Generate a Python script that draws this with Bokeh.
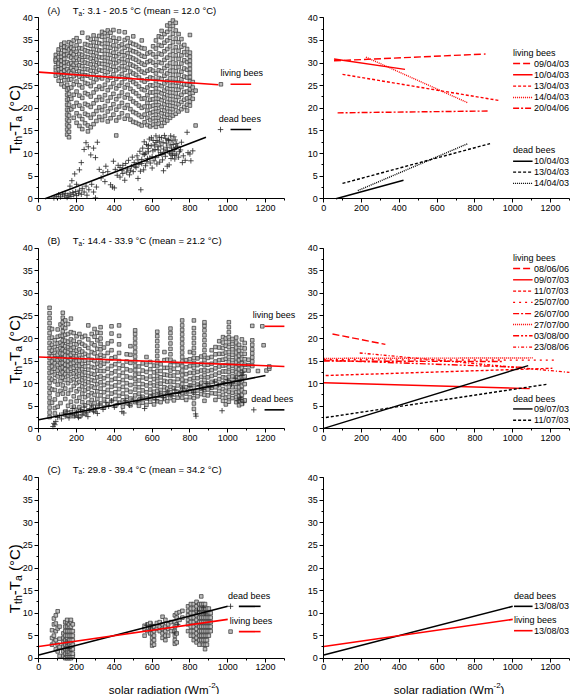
import math
from bokeh.plotting import figure
from bokeh.models import Range1d, FixedTicker, Label, LinearAxis
from bokeh.embed import file_html
from bokeh.resources import INLINE

# ---------------- data ----------------
x_ticks = [0, 200, 400, 600, 800, 1000, 1200]
y_ticks = [0, 5, 10, 15, 20, 25, 30, 35, 40]

titles = ["(A)", "(B)", "(C)"]
ta_ranges = ["3.1 - 20.5 °C (mean = 12.0 °C)",
             "14.4 - 33.9 °C (mean = 21.2 °C)",
             "29.8 - 39.4 °C (mean = 34.2 °C)"]

# (A) living bees: radiation columns and the thorax excess temperatures read in each
a_live_x = [90, 105, 120, 135, 150, 160, 172, 185, 200, 215, 230, 245, 260, 275, 290, 305, 320, 335,
            350, 365, 380, 395, 410, 425, 440, 455, 470, 485, 500, 515, 530, 545, 560, 575, 590, 605,
            620, 635, 650, 665, 680, 695, 710, 725, 740, 755, 770, 785, 800, 815, 830]
a_live_y = [
    [27.2, 28.4, 29.1, 30.3, 31.0, 31.8, 30.7],
    [26.1, 27.5, 28.6, 29.4, 30.2, 31.3, 32.4, 33.0, 29.9],
    [25.3, 26.8, 27.9, 28.8, 29.6, 30.5, 31.4, 32.2, 33.5, 34.1],
    [24.8, 26.2, 27.4, 28.3, 29.2, 30.1, 30.9, 31.8, 32.7, 33.6, 34.5],
    [14.2, 15.3, 16.4, 17.5, 18.6, 19.7, 20.8, 21.9, 23.0, 24.1, 25.2, 27.0, 28.6, 30.2, 31.9, 33.4],
    [13.6, 14.8, 16.0, 17.2, 18.4, 19.6, 20.8, 22.0, 23.2, 24.4, 26.3, 28.1, 29.8, 31.5, 33.0, 34.6],
    [19.8, 22.1, 24.6, 26.4, 27.7, 28.9, 30.0, 31.2, 32.3, 33.4, 34.3],
    [17.9, 20.4, 23.0, 25.3, 27.1, 28.4, 29.6, 30.7, 31.9, 33.1, 35.0],
    [16.8, 18.9, 21.2, 23.7, 25.9, 27.5, 28.8, 30.0, 31.2, 32.5, 33.9, 35.5],
    [16.1, 18.3, 20.6, 22.8, 25.1, 27.0, 28.2, 29.5, 30.8, 32.0, 33.3, 34.8],
    [15.4, 17.6, 19.9, 22.3, 24.6, 26.5, 28.0, 29.3, 30.6, 31.8, 33.2, 36.7],
    [16.7, 18.8, 21.0, 23.4, 25.6, 27.3, 28.7, 30.1, 31.4, 32.8, 34.2],
    [14.9, 16.2, 18.5, 20.7, 23.1, 25.4, 27.2, 28.6, 29.9, 31.3, 32.6, 34.0, 35.6],
    [15.8, 17.9, 20.3, 22.6, 24.9, 26.8, 28.3, 29.7, 31.0, 32.4, 33.8, 35.2],
    [16.5, 18.7, 21.1, 23.5, 25.8, 27.6, 29.0, 30.4, 31.7, 33.1, 34.6, 36.1],
    [17.2, 19.4, 21.8, 24.2, 26.4, 28.1, 29.5, 30.8, 32.2, 33.7, 35.3],
    [18.1, 20.2, 22.5, 24.8, 26.9, 28.5, 29.9, 31.3, 32.8, 34.4, 36.0],
    [17.4, 19.6, 21.9, 24.3, 26.6, 28.3, 29.8, 31.2, 32.7, 34.2, 35.8, 36.9],
    [18.3, 20.5, 22.9, 25.2, 27.3, 29.0, 30.5, 32.0, 33.6, 35.1, 36.6],
    [17.1, 19.3, 21.6, 24.0, 26.2, 28.0, 29.6, 31.1, 32.7, 34.3, 36.0, 37.2],
    [17.8, 20.0, 22.4, 24.7, 26.8, 28.6, 30.2, 31.8, 33.4, 35.0, 36.7],
    [18.6, 20.9, 23.2, 25.5, 27.5, 29.2, 30.8, 32.3, 33.9, 35.6, 37.3],
    [14.0, 17.3, 19.7, 22.0, 24.4, 26.5, 28.4, 30.0, 31.5, 33.1, 34.8],
    [18.0, 20.4, 22.7, 25.0, 27.0, 28.8, 30.4, 32.0, 33.7, 35.4, 37.0],
    [18.9, 21.2, 23.5, 25.7, 27.6, 29.3, 30.9, 32.5, 34.1],
    [17.7, 20.1, 22.4, 24.6, 26.6, 28.5, 30.1, 31.7, 33.4, 35.1, 36.8],
    [18.4, 20.7, 23.0, 25.2, 27.2, 29.0, 30.6, 32.2, 33.8, 35.5],
    [17.5, 19.8, 22.1, 24.3, 26.3, 28.1, 29.7, 31.3, 32.9, 34.5],
    [17.0, 19.2, 21.5, 23.7, 25.8, 27.7, 29.4, 31.0, 32.6, 34.2, 35.9],
    [16.8, 18.9, 21.1, 23.3, 25.4, 27.4, 29.1, 30.7, 32.4, 34.0],
    [16.5, 18.5, 20.6, 22.7, 24.8, 26.8, 28.6, 30.3, 32.0, 33.6],
    [16.2, 18.1, 20.1, 22.1, 24.2, 26.2, 28.1, 29.9, 31.6, 33.3, 35.0],
    [16.9, 18.6, 20.4, 22.2, 24.0, 25.9, 27.8, 29.6, 31.4, 33.2],
    [16.3, 17.9, 19.5, 21.2, 22.9, 24.6, 26.4, 28.3, 30.2, 32.1],
    [16.0, 17.4, 18.9, 20.4, 21.9, 23.5, 25.1, 26.8, 28.6, 30.5, 32.4],
    [16.4, 17.8, 19.2, 20.6, 22.0, 23.5, 25.0, 26.6, 28.3, 30.1, 31.9, 33.7],
    [15.9, 17.2, 18.6, 20.0, 21.4, 22.9, 24.4, 26.0, 27.7, 29.5, 31.3, 33.2, 35.0],
    [16.6, 17.9, 19.3, 20.7, 22.1, 23.6, 25.1, 26.7, 28.4, 30.2, 32.1, 34.0, 35.9],
    [16.1, 17.5, 18.9, 20.3, 21.8, 23.3, 24.9, 26.5, 28.2, 30.0, 31.9, 33.8, 35.7, 37.1],
    [16.8, 18.1, 19.5, 20.9, 22.4, 23.9, 25.5, 27.2, 28.9, 30.7, 32.6, 34.5, 36.4],
    [17.3, 18.6, 20.0, 21.4, 22.9, 24.4, 26.0, 27.7, 29.4, 31.2, 33.1, 35.0, 36.9, 38.3],
    [17.9, 19.2, 20.6, 22.0, 23.5, 25.0, 26.6, 28.3, 30.0, 31.8, 33.7, 35.6, 37.5, 38.8],
    [18.4, 19.8, 21.2, 22.7, 24.2, 25.8, 27.4, 29.1, 30.9, 32.7, 34.6, 36.5, 38.2, 39.4],
    [18.8, 20.3, 21.8, 23.3, 24.9, 26.5, 28.2, 29.9, 31.7, 33.5, 35.4, 37.2, 38.9],
    [19.3, 20.9, 22.5, 24.1, 25.7, 27.4, 29.1, 30.9, 32.7, 34.6, 36.4],
    [19.8, 21.4, 23.0, 24.7, 26.4, 28.1, 29.9, 31.7, 33.6, 35.3],
    [20.3, 21.9, 23.6, 25.3, 27.0, 28.8, 30.6, 32.4, 34.0],
    [19.5, 20.8, 22.2, 23.7, 25.2, 26.8, 28.5, 30.2, 31.8, 33.1],
    [20.6, 21.5, 22.4, 23.3, 24.2, 25.1, 26.0, 26.9, 27.8, 28.7, 29.6, 30.5, 31.4, 32.3, 36.2],
    [22.1, 23.4, 24.6, 25.8],
    [16.2, 23.9],
]

# (A) dead bees
a_dead_x = [80, 95, 105, 115, 125, 135, 140, 150, 155, 165, 170, 180, 185, 195, 200, 210, 215, 225, 230,
            240, 250, 255, 265, 280, 290, 300, 305, 165, 175, 190, 200, 215, 225, 240, 250, 262, 275, 290,
            300, 310, 320, 330, 340, 350, 355, 365, 380, 390, 395, 400, 405, 415, 420, 430, 440, 445, 455,
            460, 470, 475, 480, 490, 495, 500, 505, 515, 520, 525, 530, 535, 540, 545, 550, 555, 560, 565,
            570, 575, 580, 585, 590, 595, 600, 605, 610, 615, 620, 625, 630, 635, 640, 645, 650, 655, 660,
            665, 670, 675, 680, 685, 690, 695, 700, 705, 710, 715, 720, 725, 730, 740, 750, 760, 775, 785,
            790, 800, 805, 815, 600, 640, 680, 720, 660, 700, 580, 620,
            545, 552, 558, 566, 572, 578, 588, 596, 604, 612, 618, 626, 632, 638, 646, 652, 658, 668, 672,
            678, 688, 692, 698, 702, 708, 712, 718, 722, 728, 735, 745, 755, 765, 430, 445, 465, 485, 510,
            525, 538]
a_dead_y = [0.2, 0.5, 0.9, 0.4, 1.0, 0.6, 1.2, 0.3, 0.8, 1.1, 0.5, 1.4, 0.9, 1.6, 0.7, 1.2, 1.9, 1.0, 2.3,
            1.5, 2.8, 0.8, 2.0, 3.2, 1.5, 0.2, 2.6, 2.8, 4.0, 5.5, 3.2, 6.4, 8.0, 10.9, 12.4, 11.5, 9.7, 11.2,
            9.1, 12.5, 6.5, 4.6, 5.8, 3.8, 7.2, 6.0, 3.1, 2.6, 8.3, 2.4, 6.5, 5.2, 7.4, 4.8, 6.3, 5.6, 4.1,
            7.8, 6.6, 8.5, 5.3, 7.1, 9.2, 6.0, 8.0, 6.9, 9.5, 4.5, 7.6, 10.5, 2.0, 8.7, 11.2, 6.4, 9.8, 7.3,
            12.0, 8.9, 10.4, 13.2, 7.9, 11.7, 9.3, 12.9, 8.4, 10.9, 13.9, 7.7, 11.5, 9.6, 12.6, 10.2, 13.5, 8.6, 11.0,
            14.0, 9.4, 12.3, 10.7, 13.1, 7.5, 11.9, 9.9, 12.8, 10.5, 13.7, 8.8, 11.3, 12.2, 9.2, 10.8, 8.0, 8.5, 14.7,
            10.2, 9.9, 8.4, 10.6, 6.8, 8.1, 7.2, 9.6, 6.2, 8.9, 11.8, 12.4,
            7.8, 9.9, 12.6, 10.1, 8.2, 11.1, 9.0, 13.5, 10.6, 11.9, 9.1, 12.9, 10.8, 13.6, 11.7, 9.8, 12.4, 10.3, 13.3,
            11.4, 12.9, 10.1, 13.9, 11.2, 9.6, 12.0, 10.9, 13.0, 9.9, 11.6, 10.4, 12.5, 9.5, 6.9, 7.4, 5.9, 6.2, 7.2,
            8.6, 6.1]

# (B) living bees
b_live_x = [57, 70, 85, 100, 115, 127, 140, 155, 170, 185, 200, 215, 230, 245, 262, 280, 295, 310, 327,
            345, 365, 385, 405, 425, 445, 465, 485, 510, 530, 550, 570, 590, 610, 627, 645, 665, 680, 697,
            715, 735, 759, 780, 800, 821, 840, 860, 877, 895, 915, 935, 955, 975, 990, 1006, 1025, 1045,
            1060, 1075, 1090, 1110, 1130, 1160, 1190, 1205, 1220]
b_live_y = [
    [2.6, 3.6, 4.7, 5.8, 6.9, 8.0, 9.1, 10.2, 11.3, 12.4, 13.5, 14.6, 15.7, 16.8, 17.9, 19.0, 20.1, 21.2, 22.3, 23.4, 24.5, 25.6, 26.8],
    [5.8, 8.7, 10.9, 12.6, 13.8, 14.9, 16.1, 17.3, 18.6, 20.2, 22.1],
    [3.4, 4.6, 6.5, 8.6, 10.5, 12.0, 13.3, 14.5, 15.6, 16.8, 18.1, 19.6],
    [4.9, 7.6, 9.8, 11.6, 12.9, 14.1, 15.2, 16.4, 17.6, 18.9, 20.4, 22.0],
    [5.7, 8.4, 10.6, 12.2, 13.4, 14.5, 15.6, 16.7, 17.9, 19.1, 20.6, 23.1],
    [7.8, 9.6, 11.3, 12.5, 13.6, 14.6, 15.6, 16.6, 17.6, 18.6, 19.6, 20.6, 21.6, 22.6, 23.6, 24.6, 25.7],
    [3.8, 6.6, 8.9, 10.8, 12.1, 13.2, 14.2, 15.2, 16.2, 17.2, 18.3, 19.5, 20.8, 22.3, 24.0],
    [2.9, 5.1, 7.8, 10.1, 11.7, 12.9, 14.0, 15.0, 16.0, 17.0, 18.1, 19.3, 21.0, 23.2],
    [3.7, 6.0, 8.6, 10.7, 12.1, 13.3, 14.4, 15.4, 16.4, 17.5, 18.6, 19.8, 21.4, 24.4],
    [2.8, 4.9, 7.2, 9.5, 11.0, 12.3, 13.5, 14.6, 15.7, 16.8, 18.0, 19.5, 21.2],
    [3.1, 4.2, 6.1, 8.3, 10.1, 11.5, 12.7, 13.9, 15.0, 16.1, 17.3, 18.7, 20.5],
    [2.7, 4.8, 6.9, 8.8, 10.4, 11.7, 12.9, 14.0, 15.1, 16.3, 17.6, 19.2, 21.0],
    [3.9, 5.9, 7.8, 9.4, 10.8, 12.0, 13.2, 14.4, 15.7, 17.1, 18.8, 20.3],
    [3.3, 5.2, 7.0, 8.5, 9.9, 11.2, 12.5, 13.8, 15.1, 16.6, 18.4, 20.6],
    [4.1, 5.8, 7.4, 8.9, 10.3, 11.7, 13.1, 14.6, 16.2, 17.9, 19.8, 22.9],
    [4.6, 6.4, 7.9, 9.4, 10.8, 12.2, 13.7, 15.3, 17.0, 18.9, 21.0],
    [4.0, 5.7, 7.5, 9.1, 10.6, 12.0, 13.5, 15.0, 16.7, 18.5, 20.4, 22.1],
    [4.8, 6.6, 8.3, 9.9, 11.4, 12.9, 14.4, 16.0, 17.7, 19.6, 21.3],
    [5.6, 7.4, 8.9, 10.3, 11.6, 12.8, 14.0, 15.2, 16.4, 17.6, 18.8, 20.0, 21.2, 22.5],
    [4.7, 6.5, 8.1, 9.7, 11.2, 12.8, 14.4, 16.1, 18.0],
    [5.5, 7.1, 8.6, 10.1, 11.7, 13.3, 15.0, 16.8, 18.9],
    [6.2, 7.8, 9.3, 10.8, 12.3, 13.9, 15.6, 17.4, 19.4, 21.1, 22.7],
    [5.1, 6.6, 8.1, 9.6, 11.1, 12.7, 14.3, 15.9],
    [5.8, 7.3, 8.8, 10.3, 11.8, 13.4, 15.0, 16.8, 18.7, 20.6, 22.9],
    [4.9, 6.3, 7.8, 9.3, 10.8, 12.4, 14.0],
    [5.7, 7.1, 8.6, 10.1, 11.6, 13.2, 14.9, 16.5],
    [5.2, 6.7, 8.2, 9.7, 11.3, 12.9, 14.6, 16.4, 18.3],
    [5.9, 7.4, 8.7, 9.9, 11.0, 12.0, 13.0, 14.0, 15.0, 16.0, 17.0, 18.0, 19.0, 20.0, 21.0, 21.8],
    [5.1, 6.4, 7.8, 9.2, 10.7, 12.2, 13.8],
    [5.8, 7.1, 8.5, 9.9, 11.4, 12.9, 14.5],
    [5.3, 6.7, 8.1, 9.6, 11.1, 12.6, 14.2, 15.9],
    [6.0, 7.3, 8.7, 10.1, 11.6, 13.2, 14.8],
    [5.4, 6.8, 8.2, 9.6, 11.0, 12.5, 14.0],
    [6.1, 7.3, 8.4, 9.5, 10.6, 11.7, 12.8, 13.9, 15.0, 16.1, 17.2, 18.3, 19.4, 20.5, 21.5],
    [5.9, 7.3, 8.6, 10.0, 11.4, 12.8, 14.3],
    [6.6, 7.9, 9.2, 10.6, 12.0, 13.5, 15.2, 17.0],
    [6.1, 7.5, 8.9, 10.4, 11.9, 13.5, 15.3],
    [6.8, 8.1, 9.3, 10.5, 11.7, 12.9, 14.1, 15.3, 16.5, 17.7, 18.9, 20.1, 21.2, 22.2],
    [6.3, 7.6, 9.0, 10.4, 11.8, 13.3, 14.8],
    [6.9, 8.2, 9.6, 11.0, 12.5, 14.1],
    [6.9, 7.9, 8.9, 9.9, 10.9, 11.9, 12.9, 13.9, 14.9, 15.9, 16.9, 17.9, 18.9, 19.9, 20.9, 21.9, 22.9, 24.0],
    [6.4, 7.8, 9.2, 10.6, 12.1, 13.6, 15.2],
    [7.0, 8.3, 9.6, 11.0, 12.4, 13.9, 15.4, 17.0],
    [4.4, 5.6, 6.8, 8.0, 9.1, 10.2, 11.3, 12.4, 13.5, 14.6, 15.7, 16.8, 17.9, 19.0, 20.1, 21.2, 22.3, 24.0],
    [7.2, 8.5, 9.8, 11.2, 12.6, 14.1, 15.6],
    [7.7, 8.9, 10.2, 11.5, 12.9, 14.4, 16.0],
    [6.2, 7.5, 8.6, 9.7, 10.8, 11.9, 13.0, 14.1, 15.2, 16.3, 17.4, 18.5, 19.6, 20.7, 21.8, 22.8, 23.6],
    [7.4, 8.7, 10.0, 11.4, 12.8, 14.2, 15.7],
    [7.9, 9.1, 10.4, 11.7, 13.0, 14.4, 15.9, 17.4],
    [6.4, 7.8, 9.2, 10.6, 12.0, 13.4, 14.9, 16.5, 18.1],
    [7.1, 8.4, 9.7, 11.0, 12.4, 13.8, 15.2, 16.6, 18.0, 19.4],
    [6.2, 7.5, 8.8, 10.1, 11.4, 12.7, 14.0, 15.3, 16.6, 17.9, 19.1, 20.3],
    [5.4, 6.9, 8.4, 9.9, 11.3, 12.7, 14.1, 15.5, 16.9, 18.4, 20.0],
    [6.0, 7.1, 8.2, 9.3, 10.4, 11.5, 12.6, 13.7, 14.8, 15.9, 17.0, 18.1, 19.2, 20.3, 21.4, 22.5, 23.6],
    [6.8, 8.0, 9.2, 10.4, 11.6, 12.8, 14.0, 15.2, 16.4, 17.6, 18.8, 19.9],
    [5.9, 7.0, 8.1, 9.2, 10.3, 11.4, 12.5, 13.6, 14.7, 15.8, 16.9, 18.0, 19.1, 20.2],
    [5.2, 6.2, 7.2, 8.2, 9.2, 10.2, 11.2, 12.2, 13.2, 14.2, 15.2, 16.2, 17.3, 18.6],
    [5.5, 6.5, 7.5, 8.5, 9.5, 10.5, 11.5, 12.5, 13.5, 14.5, 15.5, 16.6, 17.9, 19.8],
    [6.3, 8.1, 9.9, 11.6, 13.0, 14.2, 15.4, 16.6, 17.8, 19.0],
    [12.9, 14.1, 15.3],
    [13.9, 14.9, 15.8, 16.7, 17.6, 18.6, 19.6, 22.8],
    [12.8],
    [18.5],
    [12.9],
    [13.3, 13.8],
]

# (B) dead bees
b_dead_x = [75, 80, 85, 90, 100, 110, 120, 130, 140, 150, 160, 170, 180, 190, 200, 210, 220, 230, 240, 250,
            260, 270, 280, 290, 300, 310, 320, 340, 355, 370, 385, 400, 420, 440, 450, 460, 480, 500, 520,
            540, 560, 580, 600, 620, 640, 660, 680, 700, 720, 740, 760, 780, 800, 820, 830, 832, 850, 870,
            890, 910, 930, 950, 970, 980, 1000, 1020, 1040, 1055, 1060, 1065, 1070, 1075, 1080, 1085]
b_dead_y = [0.5, 1.2, 0.9, 1.6, 2.5, 3.0, 2.2, 3.5, 2.8, 3.9, 2.4, 3.2, 4.5, 2.9, 3.6, 2.5, 4.2, 3.1, 4.8, 3.5,
            2.7, 4.1, 5.2, 3.8, 4.6, 3.4, 5.5, 4.3, 5.8, 5.0, 6.2, 4.8, 5.6, 3.8, 3.5, 6.3, 5.2, 6.6, 5.9,
            7.0, 4.5, 6.8, 7.5, 6.4, 7.9, 6.9, 8.2, 7.4, 8.6, 7.8, 9.0, 8.3, 9.4, 8.0, 3.3, 2.8, 9.6, 8.7,
            10.0, 9.2, 10.4, 9.7, 4.0, 10.2, 10.8, 9.9, 11.2, 6.2, 10.5, 7.0, 6.5, 11.8, 12.5, 5.8]

# (C) living bees
c_live_x = [70, 80, 90, 100, 110, 130, 140, 150, 160, 170, 180, 560, 575, 590, 600, 610, 625, 640, 655,
            670, 685, 700, 720, 730, 745, 760, 790, 805, 820, 835, 850, 860, 870, 880, 890, 900, 910]
c_live_y = [
    [3.0, 4.5, 6.2],
    [3.5, 5.0, 7.5, 8.8],
    [2.0, 4.0, 6.0, 7.7, 9.5],
    [1.5, 3.0, 6.6, 10.4],
    [0.5, 2.5, 4.3, 7.0],
    [0.5, 1.5, 2.5, 3.5, 4.5, 5.5],
    [0.0, 1.0, 2.0, 3.0, 4.0, 5.0, 6.0, 7.0, 8.0],
    [0.0, 0.5, 1.0, 1.5, 2.0, 2.5, 3.0, 3.5, 4.0, 4.5, 5.0, 6.0, 7.0, 8.0, 8.5],
    [0.0, 0.5, 1.0, 1.5, 2.0, 2.5, 3.0, 4.0, 5.0, 6.0, 7.0, 7.5],
    [0.0, 0.5, 1.0, 2.0, 2.5, 3.0, 3.5, 4.0, 5.0, 6.0, 7.0, 8.0, 8.5],
    [0.5, 1.0, 2.0, 3.0, 4.0, 5.0, 6.0, 7.5],
    [5.0, 6.5, 7.2],
    [6.0, 7.5],
    [5.5, 6.8, 7.8],
    [2.8, 3.5, 4.5, 5.5, 6.5],
    [3.0, 4.0, 5.0, 6.0, 7.0],
    [6.5, 7.8],
    [6.0, 7.0, 8.0],
    [4.5, 5.5, 6.5, 7.5, 9.2],
    [4.0, 5.0, 6.0, 7.0, 8.5],
    [5.0, 6.5, 7.5],
    [6.0, 8.0],
    [3.2, 4.0, 5.0, 6.0, 7.0, 8.0, 9.5],
    [3.5, 5.5, 7.5, 9.0, 10.0],
    [8.5, 10.2],
    [9.0, 10.5],
    [6.0, 7.5, 8.5, 9.5, 10.5, 11.5],
    [5.0, 6.0, 7.0, 8.0, 9.0, 10.0, 11.0, 12.0],
    [4.0, 5.0, 6.0, 7.0, 8.0, 9.0, 10.0, 11.0, 12.0],
    [3.5, 4.5, 5.5, 6.5, 7.5, 8.5, 9.5, 10.5, 11.5, 12.5],
    [3.0, 4.0, 5.0, 6.0, 7.0, 8.0, 9.0, 10.0, 11.0, 12.0],
    [4.0, 5.0, 6.0, 7.0, 8.0, 9.0, 10.0, 11.0, 12.0, 13.7],
    [3.0, 4.0, 5.0, 6.0, 7.0, 8.0, 9.0, 10.0, 11.0, 12.0],
    [2.0, 3.0, 4.0, 5.0, 6.0, 7.0, 8.0, 9.0, 10.0, 11.0, 12.0],
    [3.0, 4.0, 5.0, 6.0, 7.0, 8.0, 9.0, 10.0, 11.0],
    [5.0, 6.0, 7.0, 8.0, 9.0, 10.0, 11.0],
    [6.0, 7.0, 8.0, 9.0, 10.0],
]
# (C) dead bees
c_dead_x = [150, 160, 570, 590, 600, 720, 735, 840, 870, 880]
c_dead_y = [3.5, 2.2, 7.3, 6.7, 7.5, 5.6, 7.5, 10.5, 11.2, 10.0]

# pooled regression lines (left column): x ends, y ends
a_fit_live = ([0, 950], [28.0, 25.2])
a_fit_dead = ([33, 885], [0.0, 13.6])
b_fit_live = ([0, 1300], [15.9, 13.8])
b_fit_dead = ([0, 1200], [2.0, 11.8])
c_fit_live = ([0, 1000], [2.6, 8.6])
c_fit_dead = ([0, 1000], [0.7, 11.5])

# daily regression lines (right column)
a_live_dates = ["09/04/03", "10/04/03", "13/04/03", "14/04/03", "20/04/06"]
a_live_x0 = [54, 54, 99, 223, 73]
a_live_x1 = [856, 430, 931, 763, 869]
a_live_y0 = [30.5, 30.9, 27.5, 31.3, 19.0]
a_live_y1 = [32.0, 28.6, 21.7, 21.2, 19.4]
a_dead_dates = ["10/04/03", "13/04/03", "14/04/03"]
a_dead_x0 = [64, 99, 180]
a_dead_x1 = [422, 880, 763]
a_dead_y0 = [0.0, 3.4, 1.8]
a_dead_y1 = [4.1, 12.2, 12.2]

b_live_dates = ["08/06/06", "09/07/03", "11/07/03", "25/07/00", "26/07/00", "27/07/00", "03/08/00", "23/08/06"]
b_live_x0 = [46, 0, 10, 0, 0, 0, 0, 190]
b_live_x1 = [326, 1090, 1210, 1220, 950, 1110, 1060, 1300]
b_live_y0 = [21.0, 10.2, 11.8, 15.3, 15.0, 15.6, 15.2, 16.8]
b_live_y1 = [18.7, 8.9, 13.4, 15.2, 14.9, 15.7, 13.6, 12.5]
b_dead_dates = ["09/07/03", "11/07/03"]
b_dead_x0 = [0, 11]
b_dead_x1 = [1082, 1188]
b_dead_y0 = [0.1, 2.5]
b_dead_y1 = [14.0, 9.9]

c_dates = ["13/08/03"]

# ---------------- layout (page pixels) ----------------
PW, PH = 570, 694
COLS = [(38.3, 265.0), (323.3, 550.0)]                      # page x of radiation 0 and 1200
ROWS = [(198.3, 17.3), (428.3, 247.7), (657.7, 477.3)]      # page y of 0 and 40 °C
TITLE_BASE = [10.3, 240.3, 468.5]
FONT = "Liberation Sans"
RED = "#ff0000"
FS = "9px"
DATE_X = 1113

DASH = {
    "solid": "solid", "long": "7 3", "short": "3 2", "dot": "1 1", "sparse": "2 4",
    "dashdot": "6 2 2 2", "dashdotdot": "6 2 2 2 2 2", "shortdashdot": "3 2 1 2",
}
a_live_styles = ["long", "solid", "short", "dot", "dashdot"]
a_dead_styles = ["solid", "short", "dot"]
b_live_styles = ["long", "solid", "short", "sparse", "dashdot", "dot", "dashdotdot", "shortdashdot"]
b_dead_styles = ["solid", "short"]

W = {'0': .556, '1': .556, '2': .556, '3': .556, '4': .556, '5': .556, '6': .556, '7': .556, '8': .556,
     '9': .556, '.': .278, ' ': .278, ':': .278, '-': .333, '(': .333, ')': .333, '°': .4, '=': .584,
     'A': .667, 'B': .667, 'C': .722, 'T': .611, 'W': .944, 'a': .556, 'd': .556, 'e': .556, 'h': .556,
     'i': .222, 'l': .222, 'm': .833, 'n': .556, 'o': .556, 'r': .333, 's': .5, 't': .278, '/': .278}

p = figure(width=PW, height=PH, x_range=Range1d(0, PW), y_range=Range1d(PH, 0),
           x_axis_type=None, y_axis_type=None, output_backend="svg", toolbar_location=None,
           min_border=0)
p.outline_line_color = None
p.background_fill_color = "white"
p.border_fill_color = "white"


def tw(s, size):
    return sum(W.get(c, 0.556) for c in s) * size


def label(x, y, text, size, angle=0.0, baseline="alphabetic"):
    p.add_layout(Label(x=x, y=y, text=text, angle=angle, text_font=FONT, text_font_size=f"{size}px",
                       text_baseline=baseline, text_align="left", text_color="black"))


def rich(x, y, parts, angle=0.0):
    pos = 0.0
    for text, size, shift in parts:
        lead = len(text) - len(text.lstrip())
        off = pos + tw(text[:lead], size)
        if angle == 0:
            label(x + off, y + shift, text.strip(), size)
        else:
            label(x + shift, y - off, text.strip(), size, angle=angle)
        pos += tw(text, size)


def panel(col, row):
    name = f"p{col}{row}"
    ax0, ax1 = COLS[col]
    ay0, ay1 = ROWS[row]
    kx = 1200 / (ax1 - ax0)
    ky = 40 / (ay0 - ay1)
    p.extra_x_ranges[name] = Range1d(-ax0 * kx, (PW - ax0) * kx)
    p.extra_y_ranges[name] = Range1d((ay0 - PH) * ky, ay0 * ky)
    xa = LinearAxis(x_range_name=name, y_range_name=name, fixed_location=0, bounds=(0, 1300),
                    ticker=FixedTicker(ticks=x_ticks, minor_ticks=list(range(0, 1301, 100))))
    ya = LinearAxis(x_range_name=name, y_range_name=name, fixed_location=0, bounds=(0, 40),
                    ticker=FixedTicker(ticks=y_ticks, minor_ticks=[i * 2.5 for i in range(17)]))
    for ax in (xa, ya):
        ax.axis_line_color = "black"
        ax.axis_line_width = 1
        ax.major_tick_line_color = "black"
        ax.minor_tick_line_color = "black"
        ax.major_tick_out = 4
        ax.major_tick_in = 0
        ax.minor_tick_out = 2
        ax.minor_tick_in = 0
        ax.major_label_text_font = FONT
        ax.major_label_text_font_size = FS
        ax.major_label_text_color = "black"
        ax.major_label_standoff = 2
    p.add_layout(xa, "below")
    p.add_layout(ya, "left")

    def to_page(x, y):
        return ax0 + x / kx, ay0 - y / ky

    if col == 0:
        parts = [("T", 15, 0), ("th", 10.5, 3), ("-T", 15, 0), ("a", 10.5, 3), (" (°C)", 15, 0)]
        rich(14, ay0 - 45, parts, angle=math.pi / 2)
        rich(47, TITLE_BASE[row], [(titles[row], 9.5, 0)])
        rich(72.3, TITLE_BASE[row], [("T", 9.5, 0), ("a", 6.5, 2.2), (": " + ta_ranges[row], 9.5, 0)])
    if row == 2:
        rich(ax0 + 70, 689, [("solar radiation (Wm", 11.5, 0), ("-2", 8, -4.5), (")", 11.5, 0)])
    return name, to_page


def sq(name, x, y):
    p.scatter(x, y, x_range_name=name, y_range_name=name, marker="square", size=3.6,
              line_color="#333333", fill_color="#bdbdbd", line_width=0.7)


def cr(name, x, y):
    p.scatter(x, y, x_range_name=name, y_range_name=name, marker="cross", size=5.5,
              line_color="#262626", line_width=0.8)


def ln(name, xs, ys, color, width=1.6, dash="solid"):
    p.line(xs, ys, x_range_name=name, y_range_name=name, line_color=color, line_width=width,
           line_dash=dash)


def legend_text(to_page, x, y, text):
    px, py = to_page(x, y)
    label(px, py, text, 9, baseline="middle")


def expand(xs, ycols):
    X, Y = [], []
    for x, ys in zip(xs, ycols):
        X += [x] * len(ys)
        Y += list(ys)
    return X, Y


# ---------------- left column ----------------
n, tp = panel(0, 0)
sq(n, *expand(a_live_x, a_live_y))
cr(n, a_dead_x, a_dead_y)
ln(n, *a_fit_live, RED)
ln(n, *a_fit_dead, "black")
legend_text(tp, 962, 27.7, "living bees")
sq(n, [964], [25.3])
ln(n, [1015, 1124], [25.3, 25.3], RED)
legend_text(tp, 953, 17.7, "dead bees")
cr(n, [962], [15.3])
ln(n, [1015, 1124], [15.3, 15.3], "black")

n, tp = panel(0, 1)
sq(n, *expand(b_live_x, b_live_y))
cr(n, b_dead_x, b_dead_y)
ln(n, *b_fit_live, RED)
ln(n, *b_fit_dead, "black")
legend_text(tp, 1133, 25.2, "living bees")
sq(n, [1183], [22.7])
ln(n, [1195, 1300], [22.7, 22.7], RED)
legend_text(tp, 1124, 6.5, "dead bees")
cr(n, [1138], [4.2])
ln(n, [1195, 1300], [4.2, 4.2], "black")

n, tp = panel(0, 2)
sq(n, *expand(c_live_x, c_live_y))
cr(n, c_dead_x, c_dead_y)
ln(n, *c_fit_dead, "black")
ln(n, *c_fit_live, RED)
legend_text(tp, 1002, 13.7, "dead bees")
cr(n, [1015], [11.5])
ln(n, [1059, 1174], [11.5, 11.5], "black")
legend_text(tp, 1011, 8.3, "living bees")
sq(n, [1015], [5.9])
ln(n, [1059, 1174], [5.9, 5.9], RED)


# ---------------- right column ----------------
def daily(name, tp, dates, x0, x1, y0, y1, styles, color, rows_y):
    for i in range(len(dates)):
        ln(name, [x0[i], x1[i]], [y0[i], y1[i]], color, 1.4, DASH[styles[i]])
    for i, d in enumerate(dates):
        ln(name, [1002, 1105], [rows_y[i], rows_y[i]], color, 1.4, DASH[styles[i]])
        legend_text(tp, DATE_X, rows_y[i], d)


n, tp = panel(1, 0)
daily(n, tp, a_live_dates, a_live_x0, a_live_x1, a_live_y0, a_live_y1, a_live_styles, RED,
      [29.9, 27.4, 24.9, 22.4, 20.0])
legend_text(tp, 1002, 32.3, "living bees")
daily(n, tp, a_dead_dates, a_dead_x0, a_dead_x1, a_dead_y0, a_dead_y1, a_dead_styles, "black",
      [8.3, 5.9, 3.4])
legend_text(tp, 1002, 10.8, "dead bees")

n, tp = panel(1, 1)
daily(n, tp, b_live_dates, b_live_x0, b_live_x1, b_live_y0, b_live_y1, b_live_styles, RED,
      [35.5, 33.0, 30.5, 28.0, 25.5, 23.1, 20.6, 18.1])
legend_text(tp, 1002, 37.8, "living bees")
daily(n, tp, b_dead_dates, b_dead_x0, b_dead_x1, b_dead_y0, b_dead_y1, b_dead_styles, "black",
      [4.4, 1.9])
legend_text(tp, 1002, 6.7, "dead bees")

n, tp = panel(1, 2)
ln(n, *c_fit_dead, "black")
ln(n, *c_fit_live, RED)
legend_text(tp, 1007, 13.7, "dead bees")
ln(n, [1007, 1105], [11.5, 11.5], "black")
legend_text(tp, DATE_X, 11.5, c_dates[0])
legend_text(tp, 1007, 8.5, "living bees")
ln(n, [1007, 1105], [6.1, 6.1], RED)
legend_text(tp, DATE_X, 6.1, c_dates[0])

open("out.html", "w").write(file_html(p, INLINE, title="Thorax temperature excess"))
